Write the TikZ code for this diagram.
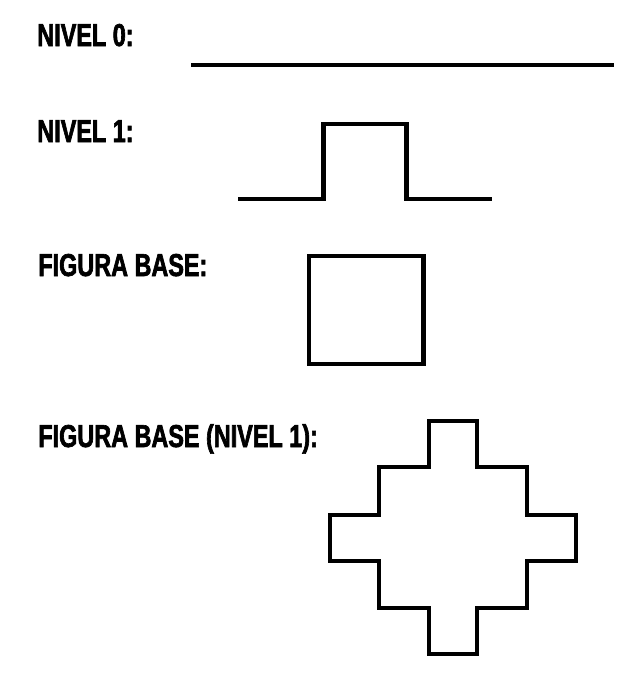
\documentclass[tikz,border=0pt]{standalone}
\usepackage{fontspec}
\newfontfamily\rotulo[FakeStretch=0.74,FakeBold=2]{Liberation Sans}
\usepackage{tikz}
\usetikzlibrary{calc,positioning}

\begin{document}
\begin{tikzpicture}[x=0.02cm, y=-0.02cm,
		etiqueta/.style={anchor=base west, inner sep=0pt, font=\rotulo\bfseries\fontsize{18}{21}\selectfont},
		trazo/.style={line width=2.4pt, line cap=rect, line join=miter}]
					\useasboundingbox (0, 0) rectangle (644, 676);

					% rotulos
					\node[etiqueta] at (37, 46) (nivel0) {NIVEL 0:};
					\node[etiqueta] at (37, 142) (nivel1) {NIVEL 1:};
					\node[etiqueta] at (38, 276) (base) {FIGURA BASE:};
					\node[etiqueta] at (38, 447) (baseuno) {FIGURA BASE (NIVEL 1):};

					% nivel 0
					\draw[line width=1.9pt] (191, 65) -- (614, 65);

					% nivel 1
					\draw[trazo, line cap=butt] (238, 199) -- (323.5, 199) -- (323.5, 124) -- (406.5, 124)
						-- (406.5, 199) -- (491.5, 199);

					% figura base
					\draw[trazo] (309, 256) rectangle (423.5, 364);

					% figura base (nivel 1)
					\draw[trazo] (429, 421) -- (477, 421) -- (477, 467) -- (527, 467) -- (527, 515)
						-- (576, 515) -- (576, 561) -- (527, 561) -- (527, 608) -- (477, 608)
						-- (477, 654) -- (429, 654) -- (429, 608) -- (379, 608) -- (379, 561)
						-- (330, 561) -- (330, 515) -- (379, 515) -- (379, 467) -- (429, 467) -- cycle;
				\end{tikzpicture}
\end{document}
